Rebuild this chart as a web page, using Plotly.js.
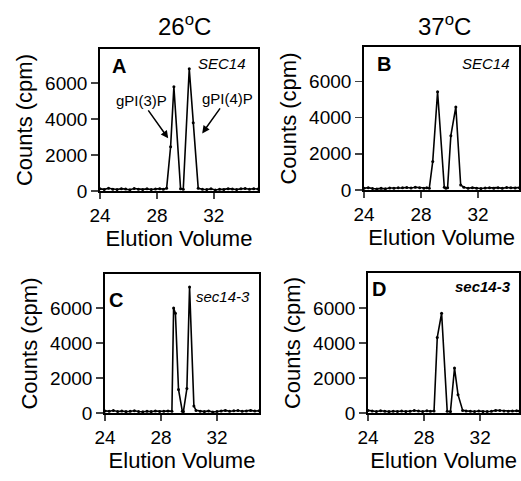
<!DOCTYPE html>
<html>
<head>
<meta charset="utf-8">
<script src="https://cdn.plot.ly/plotly-3.0.1.min.js"></script>
<style>html,body{margin:0;padding:0;background:#fff;}#chart{width:521px;height:481px;}</style>
</head>
<body>
<div id="chart"></div>
<script>
// Panel A: SEC14, 26°C
const xA = [24.0, 24.3, 24.6, 24.9, 25.2, 25.5, 25.8, 26.1, 26.4, 26.7, 27.0, 27.3, 27.6, 27.9, 28.2, 28.45, 28.68, 28.96, 29.19, 29.66, 29.85, 30.27, 30.55, 30.9, 31.2, 31.5, 31.8, 32.1, 32.4, 32.7, 33.0, 33.3, 33.6, 33.9, 34.2, 34.5, 34.8, 35.1];
const yA = [120, 90, 150, 100, 80, 130, 110, 70, 140, 100, 90, 120, 80, 110, 130, 100, 150, 2460, 5800, 120, 100, 6800, 3800, 150, 100, 80, 120, 60, 100, 90, 130, 110, 80, 120, 140, 100, 130, 110];
// Panel B: SEC14, 37°C
const xB = [24.0, 24.3, 24.6, 24.9, 25.2, 25.5, 25.8, 26.1, 26.4, 26.7, 27.0, 27.3, 27.6, 27.9, 28.2, 28.4, 28.58, 28.82, 29.16, 29.63, 29.74, 29.86, 30.09, 30.44, 30.78, 31.0, 31.3, 31.6, 31.9, 32.2, 32.5, 32.8, 33.1, 33.4, 33.7, 34.0, 34.3, 34.6, 34.9];
const yB = [100, 130, 80, 60, 90, 70, 110, 100, 130, 120, 140, 110, 150, 130, 100, 120, 100, 1570, 5430, 150, 100, 120, 3000, 4590, 280, 150, 100, 130, 90, 80, 110, 120, 100, 130, 90, 140, 120, 110, 130];
// Panel C: sec14-3, 26°C
const xC = [24.0, 24.3, 24.6, 24.9, 25.2, 25.5, 25.8, 26.1, 26.4, 26.7, 27.0, 27.3, 27.6, 27.9, 28.2, 28.5, 28.78, 28.9, 29.03, 29.25, 29.52, 29.6, 29.85, 30.04, 30.35, 30.5, 30.8, 31.1, 31.4, 31.7, 32.0, 32.3, 32.6, 32.9, 33.2, 33.5, 33.8, 34.1, 34.4, 34.7, 35.0];
const yC = [120, 100, 140, 90, 110, 80, 100, 130, 90, 70, 100, 80, 110, 90, 100, 120, 100, 6000, 5700, 1350, 100, 80, 1400, 7200, 400, 150, 100, 80, 120, 60, 90, 110, 150, 100, 130, 140, 100, 120, 150, 110, 130];
// Panel D: sec14-3, 37°C
const xD = [24.0, 24.3, 24.6, 24.9, 25.2, 25.5, 25.8, 26.1, 26.4, 26.7, 27.0, 27.3, 27.6, 27.9, 28.2, 28.45, 28.71, 28.94, 29.25, 29.65, 29.88, 30.17, 30.42, 30.75, 31.0, 31.3, 31.6, 31.9, 32.2, 32.5, 32.8, 33.1, 33.4, 33.7, 34.0, 34.3, 34.6, 34.8];
const yD = [150, 120, 90, 130, 100, 80, 100, 90, 110, 80, 100, 140, 120, 90, 130, 100, 120, 4320, 5700, 100, 80, 2570, 1050, 150, 120, 100, 90, 110, 80, 90, 100, 150, 140, 120, 100, 110, 130, 120];

const xTicks = [24, 28, 32];
const yTicks = [0, 2000, 4000, 6000];
const panelLetters = ['A', 'B', 'C', 'D'];
const strains = ['SEC14', 'SEC14', 'sec14-3', 'sec14-3'];
const temps = ['26<sup>o</sup>C', '37<sup>o</sup>C'];
const peakNames = ['gPI(3)P', 'gPI(4)P'];

const FONT = 'Liberation Sans, Arial, Helvetica, sans-serif';

function tr(x, y, xa, ya) {
  return {x: x, y: y, xaxis: xa, yaxis: ya, type: 'scatter', mode: 'lines+markers',
    line: {color: '#000', width: 1.6}, marker: {color: '#000', size: 3}, showlegend: false, hoverinfo: 'skip'};
}
const data = [tr(xA, yA, 'x', 'y'), tr(xB, yB, 'x2', 'y2'), tr(xC, yC, 'x3', 'y3'), tr(xD, yD, 'x4', 'y4')];

function xax(domain, range, anchor) {
  return {domain: domain, range: range, anchor: anchor, tickvals: xTicks, ticks: 'outside', ticklen: 6, tickwidth: 1.5,
    showline: true, linewidth: 1.8, linecolor: '#000', mirror: true, showgrid: false, zeroline: false,
    tickfont: {family: FONT, size: 19, color: '#000'},
    title: {text: 'Elution Volume', font: {family: FONT, size: 22, color: '#000'}, standoff: 4}};
}
function yax(domain, range, anchor) {
  return {domain: domain, range: range, anchor: anchor, tickvals: yTicks, ticks: 'outside', ticklen: 7, tickwidth: 1.5,
    showline: true, linewidth: 1.8, linecolor: '#000', mirror: true, showgrid: false, zeroline: false,
    tickfont: {family: FONT, size: 19, color: '#000'},
    title: {text: 'Counts (cpm)', font: {family: FONT, size: 22, color: '#000'}, standoff: 6}};
}

const annotations = [];
// temperature headers
annotations.push({text: temps[0], x: 184/521, y: 1 - 25/481, xref: 'paper', yref: 'paper', showarrow: false,
  font: {family: FONT, size: 24, color: '#000'}, xanchor: 'center', yanchor: 'middle'});
annotations.push({text: temps[1], x: 444/521, y: 1 - 25/481, xref: 'paper', yref: 'paper', showarrow: false,
  font: {family: FONT, size: 24, color: '#000'}, xanchor: 'center', yanchor: 'middle'});
// panel letters and strain labels
const letterPos = [[0.063, 0.88], [0.07, 0.878], [0.013, 0.813], [0.013, 0.889]];
const strainPos = [[0.937, 0.90], [0.949, 0.886], [0.955, 0.837], [0.96, 0.907]];
const axn = ['', '2', '3', '4'];
for (let i = 0; i < 4; i++) {
  annotations.push({text: '<b>' + panelLetters[i] + '</b>', x: letterPos[i][0], y: letterPos[i][1],
    xref: 'x' + axn[i] + ' domain', yref: 'y' + axn[i] + ' domain', showarrow: false, xanchor: 'left', yanchor: 'middle',
    font: {family: FONT, size: 20, color: '#000'}});
  const s = i === 3 ? '<b><i>' + strains[i] + '</i></b>' : '<i>' + strains[i] + '</i>';
  annotations.push({text: s, x: strainPos[i][0], y: strainPos[i][1],
    xref: 'x' + axn[i] + ' domain', yref: 'y' + axn[i] + ' domain', showarrow: false, xanchor: 'right', yanchor: 'middle',
    font: {family: FONT, size: 15, color: '#000'}});
}
// peak labels with arrows in panel A
annotations.push({text: peakNames[0], x: 28.79, y: 2930, xref: 'x', yref: 'y', showarrow: true,
  ax: -27, ay: -38, arrowhead: 2, arrowsize: 1, arrowwidth: 1.5, arrowcolor: '#000', standoff: 0,
  font: {family: FONT, size: 15, color: '#000'}});
annotations.push({text: peakNames[1], x: 31.18, y: 3205, xref: 'x', yref: 'y', showarrow: true,
  ax: 25, ay: -35, arrowhead: 2, arrowsize: 1, arrowwidth: 1.5, arrowcolor: '#000', standoff: 0,
  font: {family: FONT, size: 15, color: '#000'}});

const layout = {
  width: 521, height: 481, margin: {l: 0, r: 0, t: 0, b: 0},
  paper_bgcolor: '#fff', plot_bgcolor: '#fff', showlegend: false,
  font: {family: FONT, color: '#000'},
  xaxis: xax([100/521, 258/521], [24, 35.1], 'y'),
  yaxis: yax([1 - 191/481, 1 - 49/481], [0, 7900], 'x'),
  xaxis2: xax([364/521, 0.997], [24, 34.9], 'y2'),
  yaxis2: yax([1 - 190/481, 1 - 47/481], [0, 7900], 'x2'),
  xaxis3: xax([105/521, 259/521], [24, 35], 'y3'),
  yaxis3: yax([1 - 413/481, 1 - 274/481], [0, 7950], 'x3'),
  xaxis4: xax([368/521, 0.997], [24, 34.8], 'y4'),
  yaxis4: yax([1 - 413/481, 1 - 273/481], [0, 8000], 'x4'),
  annotations: annotations
};
Plotly.newPlot('chart', data, layout, {displayModeBar: false, staticPlot: true});
</script>
</body>
</html>
